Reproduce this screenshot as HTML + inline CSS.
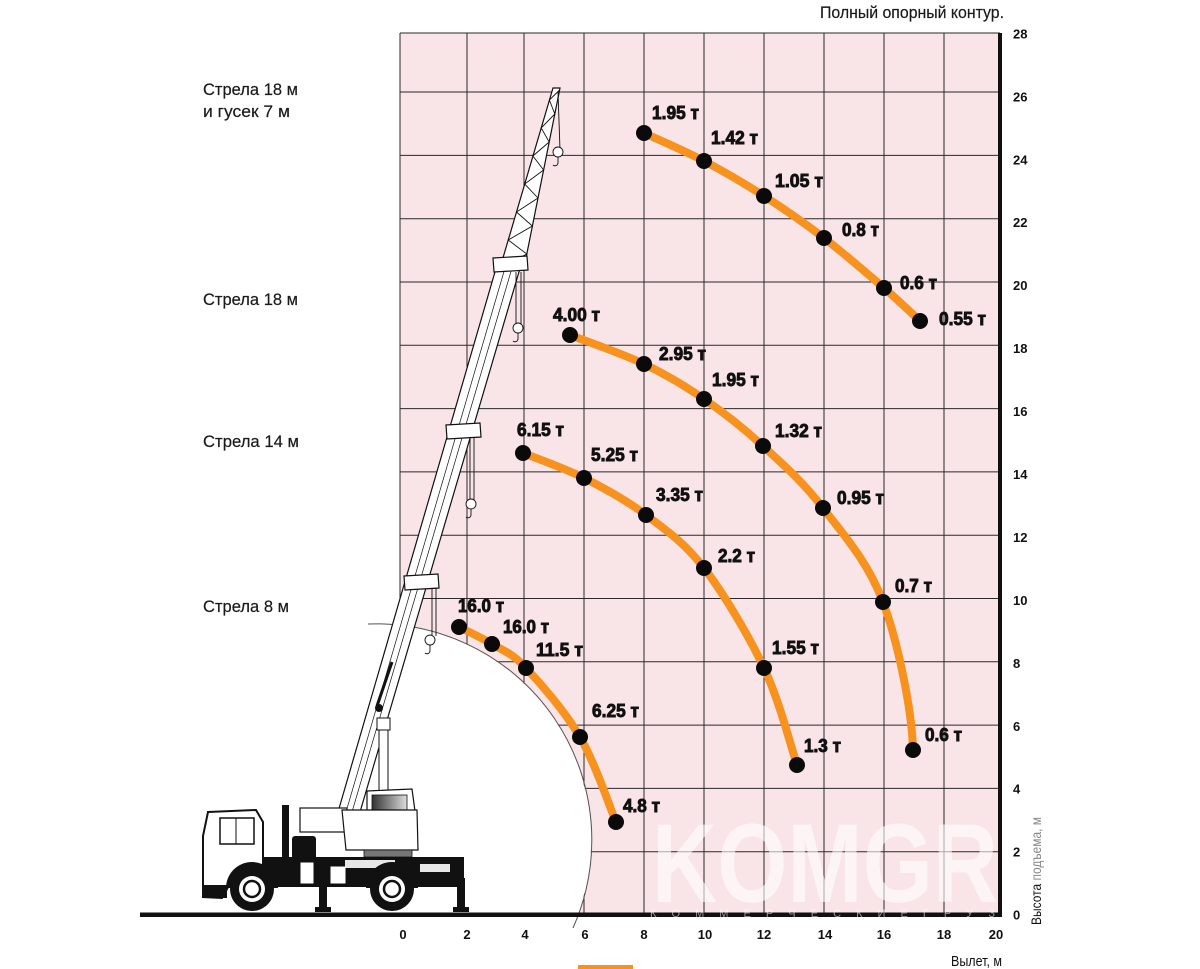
<!DOCTYPE html>
<html><head><meta charset="utf-8">
<style>
html,body{margin:0;padding:0;background:#fff;width:1200px;height:969px;overflow:hidden;}
svg{display:block;position:absolute;left:0;top:0;}
.lb{font-family:"Liberation Sans",sans-serif;font-weight:bold;font-size:18px;fill:#111;stroke:#111;stroke-width:0.9;}
.lt{font-family:"Liberation Sans",sans-serif;font-size:17px;fill:#1a1a1a;stroke:#1a1a1a;stroke-width:0.2;}
.ax{font-family:"Liberation Sans",sans-serif;font-weight:bold;font-size:13px;fill:#111;}
</style></head>
<body>
<svg width="1200" height="969" viewBox="0 0 1200 969" xmlns="http://www.w3.org/2000/svg">
<defs>
<linearGradient id="win" x1="0" y1="0" x2="1" y2="0">
<stop offset="0" stop-color="#333"/><stop offset="1" stop-color="#ddd"/>
</linearGradient>
</defs>
<!-- pink grid area -->
<rect x="400" y="33" width="600" height="882" fill="#f9e4e7"/>
<g stroke="#2a2a2a" stroke-width="1">
<line x1="400" y1="33" x2="400" y2="915"/>
<line x1="467" y1="33" x2="467" y2="915"/>
<line x1="524" y1="33" x2="524" y2="915"/>
<line x1="584" y1="33" x2="584" y2="915"/>
<line x1="644" y1="33" x2="644" y2="915"/>
<line x1="704" y1="33" x2="704" y2="915"/>
<line x1="764" y1="33" x2="764" y2="915"/>
<line x1="824" y1="33" x2="824" y2="915"/>
<line x1="884" y1="33" x2="884" y2="915"/>
<line x1="944" y1="33" x2="944" y2="915"/>
<line x1="400" y1="33" x2="1000" y2="33"/>
<line x1="400" y1="92" x2="1000" y2="92"/>
<line x1="400" y1="155.4" x2="1000" y2="155.4"/>
<line x1="400" y1="218.7" x2="1000" y2="218.7"/>
<line x1="400" y1="282" x2="1000" y2="282"/>
<line x1="400" y1="345.3" x2="1000" y2="345.3"/>
<line x1="400" y1="408.6" x2="1000" y2="408.6"/>
<line x1="400" y1="471.9" x2="1000" y2="471.9"/>
<line x1="400" y1="535.2" x2="1000" y2="535.2"/>
<line x1="400" y1="598.5" x2="1000" y2="598.5"/>
<line x1="400" y1="661.8" x2="1000" y2="661.8"/>
<line x1="400" y1="725.1" x2="1000" y2="725.1"/>
<line x1="400" y1="788.4" x2="1000" y2="788.4"/>
<line x1="400" y1="851.7" x2="1000" y2="851.7"/>
</g>
<!-- white exclusion circle (segment above ground) -->
<path d="M 172.4 915 A 216 216 0 1 1 577.6 915 Z" fill="#fff"/>
<path d="M 368 624 A 216 216 0 0 1 573 928" fill="none" stroke="#555" stroke-width="1"/>

<!-- watermark -->
<g opacity="0.6">
<text x="652" y="902" font-family="Liberation Sans, sans-serif" font-weight="bold" font-size="112" fill="#fff" textLength="346" lengthAdjust="spacingAndGlyphs">KOMGR</text>
</g>

<!-- right axis -->
<rect x="998" y="33" width="4" height="884" fill="#111"/>
<!-- ground -->
<rect x="140" y="912.5" width="862" height="4.5" fill="#111"/>
<text x="650" y="917" font-family="Liberation Sans, sans-serif" font-size="11" fill="#fff" opacity="0.55" textLength="345" lengthAdjust="spacing">К О М М Е Р Ч Е С К И Е   Г Р У З</text>

<!-- crane: boom -->
<polygon points="338,812 360,812 521,265 497,265" fill="#fff" stroke="#111" stroke-width="1.2"/>
<line x1="346" y1="812" x2="505" y2="268" stroke="#111" stroke-width="0.7"/>
<line x1="352" y1="812" x2="512" y2="268" stroke="#111" stroke-width="0.7"/>
<!-- jib lattice -->
<polygon points="500,268 524,268 560,88 553,88" fill="#fff" stroke="#111" stroke-width="1.2"/>
<polyline points="500,268 526.8,254 508.2,240 532.4,226 516.5,212 538,198 524.7,184 543.6,170 532.9,156 549.2,142 541.2,128 554.8,114 549.4,100 559.6,90" fill="none" stroke="#111" stroke-width="0.9"/>
<!-- joints -->
<polygon points="404,576 438,574 439,588 405,590" fill="#fff" stroke="#111" stroke-width="1.2"/>
<polygon points="446,425 480,423 481,437 447,439" fill="#fff" stroke="#111" stroke-width="1.2"/>
<polygon points="493,258 527,256 528,270 494,272" fill="#fff" stroke="#111" stroke-width="1.2"/>
<!-- ropes & hooks -->
<g stroke="#111" stroke-width="0.9" fill="#fff">
<line x1="432" y1="588" x2="432" y2="636"/><line x1="436" y1="588" x2="436" y2="636"/>
<circle cx="430" cy="640" r="5"/><path d="M430 645 v6 a3 3 0 0 1 -5 2" fill="none"/>
<line x1="470" y1="438" x2="470" y2="500"/><line x1="474" y1="438" x2="474" y2="500"/>
<circle cx="471" cy="504" r="5"/><path d="M471 509 v6 a3 3 0 0 1 -5 2" fill="none"/>
<line x1="516" y1="272" x2="516" y2="324"/><line x1="521" y1="272" x2="521" y2="324"/>
<circle cx="518" cy="328" r="5"/><path d="M518 333 v6 a3 3 0 0 1 -5 2" fill="none"/>
<line x1="558" y1="92" x2="560" y2="150"/>
<circle cx="558" cy="152" r="5"/><path d="M558 157 v6 a3 3 0 0 1 -5 2" fill="none"/>
</g>
<!-- boom logo -->
<line x1="377" y1="706" x2="392" y2="662" stroke="#111" stroke-width="3"/>
<circle cx="379" cy="708" r="4" fill="#111"/>
<!-- cylinder -->
<rect x="379" y="728" width="9" height="84" fill="#fff" stroke="#111" stroke-width="1"/>
<rect x="377" y="718" width="13" height="12" fill="#fff" stroke="#111" stroke-width="1"/>

<!-- superstructure -->
<polygon points="367,791 412,789 417,826 367,826" fill="#fff" stroke="#111" stroke-width="1.2"/>
<rect x="372" y="795" width="35" height="26" fill="url(#win)" stroke="#111" stroke-width="0.8"/>
<rect x="300" y="808" width="47" height="24" fill="#fff" stroke="#111" stroke-width="1.2"/>
<polygon points="342,810 417,810 418,850 346,850" fill="#fff" stroke="#111" stroke-width="1.2"/>
<rect x="364" y="850" width="48" height="7" fill="#777" stroke="#111" stroke-width="0.8"/>
<!-- exhaust & tank -->
<rect x="282" y="805" width="7" height="65" fill="#111"/>
<rect x="292" y="836" width="24" height="24" rx="3" fill="#111"/>
<!-- chassis -->
<rect x="262" y="857" width="202" height="30" fill="#111"/>
<rect x="300" y="862" width="14" height="22" fill="#fff" stroke="#111"/>
<rect x="330" y="866" width="16" height="18" fill="#fff" stroke="#111"/>
<rect x="345" y="860" width="50" height="8" fill="#fff" opacity="0.9"/>
<rect x="420" y="864" width="30" height="8" fill="#fff" opacity="0.9"/>
<!-- outriggers -->
<rect x="319" y="880" width="8" height="30" fill="#111"/>
<rect x="315" y="907" width="16" height="5" fill="#111"/>
<rect x="457" y="878" width="8" height="32" fill="#111"/>
<rect x="453" y="907" width="16" height="5" fill="#111"/>
<!-- truck cab -->
<polygon points="208,812 256,810 263,822 263,880 232,880 222,898 203,897 203,836" fill="#fff" stroke="#111" stroke-width="2"/>
<rect x="220" y="818" width="34" height="26" fill="#fff" stroke="#111" stroke-width="1.5"/>
<line x1="236" y1="818" x2="236" y2="844" stroke="#111" stroke-width="1"/>
<rect x="203" y="885" width="24" height="13" fill="#111"/>
<!-- wheels -->
<path d="M226 888 a26 26 0 0 1 52 0 z" fill="#111"/>
<circle cx="252" cy="889" r="22" fill="#111"/>
<circle cx="252" cy="889" r="13" fill="#fff"/>
<circle cx="252" cy="889" r="8" fill="none" stroke="#111" stroke-width="2.5"/>
<path d="M366 888 a26 26 0 0 1 52 0 z" fill="#111"/>
<circle cx="392" cy="889" r="22" fill="#111"/>
<circle cx="392" cy="889" r="13" fill="#fff"/>
<circle cx="392" cy="889" r="8" fill="none" stroke="#111" stroke-width="2.5"/>

<!-- curves -->
<g fill="none" stroke="#f7921e" stroke-width="8" stroke-linecap="round">
<path d="M644 133 C654 137.7 684 150.5 704 161 C724 171.5 744 183.2 764 196 C784 208.8 804 222.7 824 238 C844 253.3 868 274.2 884 288 C900 301.8 914 315.5 920 321"/>
<path d="M570 335 C582.3 339.8 621.7 353.3 644 364 C666.3 374.7 684.2 385.3 704 399 C723.8 412.7 743.2 427.8 763 446 C782.8 464.2 803 482 823 508 C843 534 868 561.7 883 602 C898 642.3 912 710 913 750"/>
<path d="M523 453 C533.2 457.2 563.5 467.7 584 478 C604.5 488.3 626 500 646 515 C666 530 684.3 542.5 704 568 C723.7 593.5 748.5 635.2 764 668 C779.5 700.8 791.5 748.8 797 765"/>
<path d="M459 627 C464.5 629.8 480.8 637.2 492 644 C503.2 650.8 511.3 652.5 526 668 C540.7 683.5 565 711.3 580 737 C595 762.7 610 807.8 616 822"/>
</g>
<g fill="#0a0a0a">
<circle cx="644" cy="133" r="8"/><circle cx="704" cy="161" r="8"/><circle cx="764" cy="196" r="8"/><circle cx="824" cy="238" r="8"/><circle cx="884" cy="288" r="8"/><circle cx="920" cy="321" r="8"/>
<circle cx="570" cy="335" r="8"/><circle cx="644" cy="364" r="8"/><circle cx="704" cy="399" r="8"/><circle cx="763" cy="446" r="8"/><circle cx="823" cy="508" r="8"/><circle cx="883" cy="602" r="8"/><circle cx="913" cy="750" r="8"/>
<circle cx="523" cy="453" r="8"/><circle cx="584" cy="478" r="8"/><circle cx="646" cy="515" r="8"/><circle cx="704" cy="568" r="8"/><circle cx="764" cy="668" r="8"/><circle cx="797" cy="765" r="8"/>
<circle cx="459" cy="627" r="8"/><circle cx="492" cy="644" r="8"/><circle cx="526" cy="668" r="8"/><circle cx="580" cy="737" r="8"/><circle cx="616" cy="822" r="8"/>
</g>

<!-- point labels -->
<g class="lb">
<text x="652" y="119" textLength="47" lengthAdjust="spacingAndGlyphs">1.95 т</text>
<text x="711" y="144" textLength="47" lengthAdjust="spacingAndGlyphs">1.42 т</text>
<text x="775" y="187" textLength="48" lengthAdjust="spacingAndGlyphs">1.05 т</text>
<text x="842" y="236" textLength="37" lengthAdjust="spacingAndGlyphs">0.8 т</text>
<text x="900" y="289" textLength="37" lengthAdjust="spacingAndGlyphs">0.6 т</text>
<text x="939" y="325" textLength="47" lengthAdjust="spacingAndGlyphs">0.55 т</text>
<text x="553" y="321" textLength="47" lengthAdjust="spacingAndGlyphs">4.00 т</text>
<text x="659" y="360" textLength="47" lengthAdjust="spacingAndGlyphs">2.95 т</text>
<text x="712" y="386" textLength="47" lengthAdjust="spacingAndGlyphs">1.95 т</text>
<text x="775" y="437" textLength="47" lengthAdjust="spacingAndGlyphs">1.32 т</text>
<text x="837" y="504" textLength="47" lengthAdjust="spacingAndGlyphs">0.95 т</text>
<text x="895" y="592" textLength="37" lengthAdjust="spacingAndGlyphs">0.7 т</text>
<text x="925" y="741" textLength="37" lengthAdjust="spacingAndGlyphs">0.6 т</text>
<text x="517" y="436" textLength="47" lengthAdjust="spacingAndGlyphs">6.15 т</text>
<text x="591" y="461" textLength="47" lengthAdjust="spacingAndGlyphs">5.25 т</text>
<text x="656" y="501" textLength="47" lengthAdjust="spacingAndGlyphs">3.35 т</text>
<text x="718" y="562" textLength="37" lengthAdjust="spacingAndGlyphs">2.2 т</text>
<text x="772" y="654" textLength="47" lengthAdjust="spacingAndGlyphs">1.55 т</text>
<text x="804" y="752" textLength="37" lengthAdjust="spacingAndGlyphs">1.3 т</text>
<text x="458" y="612" textLength="46" lengthAdjust="spacingAndGlyphs">16.0 т</text>
<text x="503" y="633" textLength="46" lengthAdjust="spacingAndGlyphs">16.0 т</text>
<text x="536" y="656" textLength="47" lengthAdjust="spacingAndGlyphs">11.5 т</text>
<text x="592" y="717" textLength="47" lengthAdjust="spacingAndGlyphs">6.25 т</text>
<text x="623" y="812" textLength="37" lengthAdjust="spacingAndGlyphs">4.8 т</text>
</g>

<!-- left labels -->
<g class="lt">
<text x="203" y="95" textLength="95" lengthAdjust="spacingAndGlyphs">Стрела 18 м</text>
<text x="203" y="117" textLength="87" lengthAdjust="spacingAndGlyphs">и гусек 7 м</text>
<text x="203" y="305" textLength="95" lengthAdjust="spacingAndGlyphs">Стрела 18 м</text>
<text x="203" y="447" textLength="96" lengthAdjust="spacingAndGlyphs">Стрела 14 м</text>
<text x="203" y="612" textLength="86" lengthAdjust="spacingAndGlyphs">Стрела 8 м</text>
<text x="820" y="18" textLength="184" lengthAdjust="spacingAndGlyphs">Полный опорный контур.</text>
</g>

<!-- y axis labels -->
<g class="ax">
<text x="1013" y="38.4">28</text>
<text x="1013" y="101.3">26</text>
<text x="1013" y="164.3">24</text>
<text x="1013" y="227.2">22</text>
<text x="1013" y="290.2">20</text>
<text x="1013" y="353.1">18</text>
<text x="1013" y="416">16</text>
<text x="1013" y="479">14</text>
<text x="1013" y="541.9">12</text>
<text x="1013" y="604.9">10</text>
<text x="1013" y="667.8">8</text>
<text x="1013" y="730.8">6</text>
<text x="1013" y="793.7">4</text>
<text x="1013" y="856.7">2</text>
<text x="1013" y="919.6">0</text>
</g>
<!-- x axis labels -->
<g class="ax" text-anchor="middle">
<text x="403" y="939">0</text>
<text x="467" y="939">2</text>
<text x="525" y="939">4</text>
<text x="585" y="939">6</text>
<text x="644" y="939">8</text>
<text x="705" y="939">10</text>
<text x="764" y="939">12</text>
<text x="825" y="939">14</text>
<text x="884" y="939">16</text>
<text x="944" y="939">18</text>
<text x="996" y="939">20</text>
</g>
<text x="951" y="966" font-family="Liberation Sans, sans-serif" font-size="15" fill="#111" textLength="51" lengthAdjust="spacingAndGlyphs">Вылет, м</text>
<text transform="translate(1041,925) rotate(-90)" font-family="Liberation Sans, sans-serif" font-size="14" fill="#111" textLength="108" lengthAdjust="spacingAndGlyphs">Высота <tspan fill="#888">подъема, м</tspan></text>

<!-- legend bar -->
<rect x="578" y="965" width="55" height="4" fill="#f7921e"/>
</svg>
</body></html>
